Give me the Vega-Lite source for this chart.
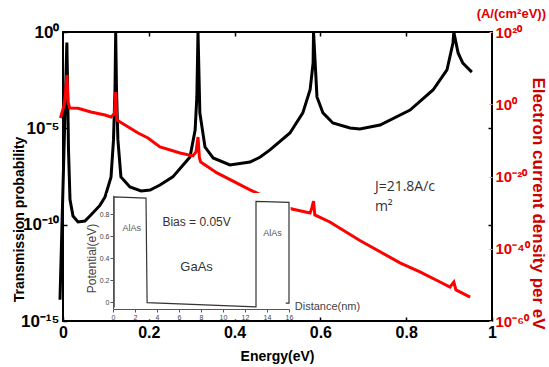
{
  "$schema": "https://vega.github.io/schema/vega-lite/v6.json",
  "width": 429,
  "height": 289,
  "autosize": "none",
  "padding": {"left": 63, "top": 32, "right": 57, "bottom": 46},
  "background": "white",
  "title": {"text": "(A/(cm²eV))", "anchor": "end", "frame": "group", "color": "#dd0000", "fontSize": 13, "font": "Liberation Sans", "fontWeight": "bold", "dx": 54, "dy": 10, "offset": 12},
  "config": {
    "view": {"stroke": "black", "strokeWidth": 2},
    "axis": {"grid": false, "domain": false, "labelFont": "Liberation Sans", "titleFont": "Liberation Sans"},
    "font": "Liberation Sans"
  },
  "datasets": {
    "transmission": [
      {"energy_eV": -0.007, "log10_transmission": -13.9},
      {"energy_eV": 0.009, "log10_transmission": -0.55},
      {"energy_eV": 0.0105, "log10_transmission": -2.5},
      {"energy_eV": 0.0128, "log10_transmission": -6.1},
      {"energy_eV": 0.0163, "log10_transmission": -8.7},
      {"energy_eV": 0.0233, "log10_transmission": -9.55},
      {"energy_eV": 0.035, "log10_transmission": -9.86},
      {"energy_eV": 0.051, "log10_transmission": -9.81},
      {"energy_eV": 0.065, "log10_transmission": -9.5},
      {"energy_eV": 0.086, "log10_transmission": -9.0},
      {"energy_eV": 0.098, "log10_transmission": -8.56},
      {"energy_eV": 0.112, "log10_transmission": -7.52},
      {"energy_eV": 0.1177, "log10_transmission": -5.6},
      {"energy_eV": 0.1212, "log10_transmission": -3.0},
      {"energy_eV": 0.1228, "log10_transmission": 0},
      {"energy_eV": 0.1247, "log10_transmission": -3.0},
      {"energy_eV": 0.128, "log10_transmission": -5.6},
      {"energy_eV": 0.135, "log10_transmission": -7.52},
      {"energy_eV": 0.156, "log10_transmission": -8.04},
      {"energy_eV": 0.182, "log10_transmission": -8.25},
      {"energy_eV": 0.203, "log10_transmission": -8.2},
      {"energy_eV": 0.226, "log10_transmission": -7.94},
      {"energy_eV": 0.256, "log10_transmission": -7.52},
      {"energy_eV": 0.296, "log10_transmission": -6.49},
      {"energy_eV": 0.308, "log10_transmission": -5.09},
      {"energy_eV": 0.312, "log10_transmission": -3.37},
      {"energy_eV": 0.3147, "log10_transmission": 0},
      {"energy_eV": 0.319, "log10_transmission": -4.2},
      {"energy_eV": 0.331, "log10_transmission": -5.97},
      {"energy_eV": 0.35, "log10_transmission": -6.54},
      {"energy_eV": 0.389, "log10_transmission": -6.9},
      {"energy_eV": 0.436, "log10_transmission": -6.75},
      {"energy_eV": 0.459, "log10_transmission": -6.5},
      {"energy_eV": 0.4825, "log10_transmission": -6.12},
      {"energy_eV": 0.529, "log10_transmission": -5.24},
      {"energy_eV": 0.559, "log10_transmission": -4.2},
      {"energy_eV": 0.576, "log10_transmission": -3.0},
      {"energy_eV": 0.583, "log10_transmission": -1.6},
      {"energy_eV": 0.584, "log10_transmission": 0},
      {"energy_eV": 0.592, "log10_transmission": -3.37},
      {"energy_eV": 0.606, "log10_transmission": -4.2},
      {"energy_eV": 0.629, "log10_transmission": -4.72},
      {"energy_eV": 0.669, "log10_transmission": -4.98},
      {"energy_eV": 0.692, "log10_transmission": -5.03},
      {"energy_eV": 0.739, "log10_transmission": -4.83},
      {"energy_eV": 0.809, "log10_transmission": -4.05},
      {"energy_eV": 0.8625, "log10_transmission": -3.01},
      {"energy_eV": 0.895, "log10_transmission": -1.97},
      {"energy_eV": 0.909, "log10_transmission": -0.57},
      {"energy_eV": 0.911, "log10_transmission": 0},
      {"energy_eV": 0.921, "log10_transmission": -1.09},
      {"energy_eV": 0.932, "log10_transmission": -1.61},
      {"energy_eV": 0.953, "log10_transmission": -2.08}
    ],
    "current": [
      {"energy_eV": -0.006, "log10_current": -3.8},
      {"energy_eV": 0.002, "log10_current": -0.5},
      {"energy_eV": 0.005, "log10_current": 2.0},
      {"energy_eV": 0.0093, "log10_current": 8.1},
      {"energy_eV": 0.0117, "log10_current": 0.62},
      {"energy_eV": 0.0156, "log10_current": -1.04},
      {"energy_eV": 0.035, "log10_current": -1.1},
      {"energy_eV": 0.065, "log10_current": -2.14},
      {"energy_eV": 0.098, "log10_current": -2.97},
      {"energy_eV": 0.112, "log10_current": -3.53},
      {"energy_eV": 0.12, "log10_current": -2.6},
      {"energy_eV": 0.1228, "log10_current": 3.39},
      {"energy_eV": 0.1255, "log10_current": -4.36},
      {"energy_eV": 0.1445, "log10_current": -5.74},
      {"energy_eV": 0.175, "log10_current": -7.96},
      {"energy_eV": 0.198, "log10_current": -9.34},
      {"energy_eV": 0.226, "log10_current": -11.8},
      {"energy_eV": 0.273, "log10_current": -13.5},
      {"energy_eV": 0.303, "log10_current": -14.3},
      {"energy_eV": 0.31, "log10_current": -13.2},
      {"energy_eV": 0.3147, "log10_current": -9.07},
      {"energy_eV": 0.318, "log10_current": -14.9},
      {"energy_eV": 0.321, "log10_current": -16.0},
      {"energy_eV": 0.359, "log10_current": -19.0},
      {"energy_eV": 0.436, "log10_current": -23.7},
      {"energy_eV": 0.534, "log10_current": -29.0},
      {"energy_eV": 0.576, "log10_current": -30.1},
      {"energy_eV": 0.58, "log10_current": -28.7},
      {"energy_eV": 0.584, "log10_current": -26.8},
      {"energy_eV": 0.587, "log10_current": -30.65},
      {"energy_eV": 0.622, "log10_current": -32.6},
      {"energy_eV": 0.692, "log10_current": -37.7},
      {"energy_eV": 0.7855, "log10_current": -43.9},
      {"energy_eV": 0.832, "log10_current": -46.4},
      {"energy_eV": 0.879, "log10_current": -49.2},
      {"energy_eV": 0.902, "log10_current": -50.6},
      {"energy_eV": 0.911, "log10_current": -49.2},
      {"energy_eV": 0.916, "log10_current": -51.4},
      {"energy_eV": 0.949, "log10_current": -53.4}
    ],
    "annotations": [
      {"energy_eV": 0.727, "log10_transmission": -8.05, "note": "J=21.8A/c"},
      {"energy_eV": 0.727, "log10_transmission": -9.1, "note": "m²"}
    ],
    "inset_panel": [
      {"distance_nm": -0.5, "distance_nm_end": 16.15, "potential_eV": -0.16, "potential_eV_end": 0.99}
    ],
    "potential_profile": [
      {"step": 1, "distance_nm": 0.1, "potential_eV": -0.05},
      {"step": 2, "distance_nm": 0.1, "potential_eV": 0.955},
      {"step": 3, "distance_nm": 3.0, "potential_eV": 0.945},
      {"step": 4, "distance_nm": 3.1, "potential_eV": -0.005},
      {"step": 5, "distance_nm": 13.0, "potential_eV": -0.045},
      {"step": 6, "distance_nm": 13.0, "potential_eV": 0.915},
      {"step": 7, "distance_nm": 16.0, "potential_eV": 0.905},
      {"step": 8, "distance_nm": 16.0, "potential_eV": -0.01},
      {"step": 9, "distance_nm": 15.7, "potential_eV": -0.01}
    ],
    "inset_labels": [
      {"distance_nm": 1.7, "potential_eV": 0.67, "label": "AlAs", "kind": "barrier"},
      {"distance_nm": 14.5, "potential_eV": 0.63, "label": "AlAs", "kind": "barrier"},
      {"distance_nm": 7.6, "potential_eV": 0.73, "label": "Bias = 0.05V", "kind": "bias"},
      {"distance_nm": 7.6, "potential_eV": 0.32, "label": "GaAs", "kind": "well"}
    ]
  },
  "layer": [
    {
      "layer": [
        {
          "data": {"name": "transmission"},
          "mark": {"type": "line", "color": "black", "strokeWidth": 3, "clip": false},
          "encoding": {
            "x": {"field": "energy_eV", "type": "quantitative", "scale": {"domain": [0, 1], "nice": false, "zero": false},
              "axis": {"orient": "bottom", "values": [0, 0.2, 0.4, 0.6, 0.8, 1], "format": "~g", "labelFlush": false, "labelFontSize": 16, "labelFontWeight": "bold", "labelColor": "black", "tickSize": -4, "tickColor": "black", "tickWidth": 1.5, "labelPadding": 7,
                "title": "Energy(eV)", "titleFontSize": 14, "titleFontWeight": "bold", "titleColor": "black", "titleX": 214, "titleY": 35, "titleAlign": "center", "titleBaseline": "middle"}},
            "y": {"field": "log10_transmission", "type": "quantitative", "scale": {"domain": [-15, 0], "nice": false, "zero": false},
              "axis": {"orient": "left", "values": [0, -5, -10, -15], "labelExpr": "datum.value == 0 ? '10⁰' : datum.value == -5 ? '10⁻⁵' : datum.value == -10 ? '10⁻¹⁰' : '10⁻¹⁵'", "labelFontSize": 17, "labelFontWeight": "bold", "labelColor": "black", "tickSize": -4, "tickColor": "black", "tickWidth": 1.5, "labelPadding": 8,
                "title": "Transmission probability", "titleFontSize": 14, "titleFontWeight": "bold", "titleColor": "black", "titleAngle": -90, "titleX": -44, "titleY": 187, "titleAlign": "center", "titleBaseline": "middle"}}
          }
        },
        {
          "data": {"name": "annotations"},
          "mark": {"type": "text", "align": "left", "baseline": "middle", "font": "Open Sans", "fontSize": 14, "color": "#333333"},
          "encoding": {
            "x": {"field": "energy_eV", "type": "quantitative"},
            "y": {"field": "log10_transmission", "type": "quantitative"},
            "text": {"field": "note"}
          }
        }
      ]
    },
    {
      "data": {"name": "current"},
      "mark": {"type": "line", "color": "#ff0000", "strokeWidth": 3, "clip": false},
      "encoding": {
        "x": {"field": "energy_eV", "type": "quantitative", "scale": {"domain": [0, 1], "nice": false, "zero": false}, "axis": null},
        "y": {"field": "log10_current", "type": "quantitative", "scale": {"domain": [-60, 20], "nice": false, "zero": false},
          "axis": {"orient": "right", "values": [20, 0, -20, -40, -60], "labelExpr": "datum.value == 20 ? '10²⁰' : datum.value == 0 ? '10⁰' : datum.value == -20 ? '10⁻²⁰' : datum.value == -40 ? '10⁻⁴⁰' : '10⁻⁶⁰'", "labelFontSize": 15, "labelFontWeight": "bold", "labelColor": "#e60000", "tickSize": -3, "tickColor": "#ff9090", "labelPadding": 6,
            "title": "Electron current density per eV", "titleColor": "#cc0000", "titleFontSize": 17, "titleFontWeight": "bold", "titleAngle": 90, "titleX": 45, "titleY": 171, "titleAlign": "center", "titleBaseline": "middle"}}
      }
    },
    {
      "data": {"name": "transmission"},
      "mark": {"type": "line", "strokeOpacity": 0},
      "encoding": {
        "x": {"field": "energy_eV", "type": "quantitative", "scale": {"domain": [0, 1], "nice": false, "zero": false},
          "axis": {"orient": "top", "values": [0.2, 0.4, 0.6, 0.8], "labels": false, "tickSize": -4, "tickColor": "black", "tickWidth": 1.5, "title": null}},
        "y": {"field": "log10_transmission", "type": "quantitative", "scale": {"domain": [-15, 0], "nice": false, "zero": false},
          "axis": {"orient": "right", "values": [-5, -10], "labels": false, "tickSize": -4, "tickColor": "black", "tickWidth": 1.5, "title": null}}
      }
    },
    {
      "layer": [
        {
          "data": {"name": "inset_panel"},
          "mark": {"type": "rect", "fill": "white"},
          "encoding": {
            "x": {"field": "distance_nm", "type": "quantitative"},
            "x2": {"field": "distance_nm_end"},
            "y": {"field": "potential_eV", "type": "quantitative"},
            "y2": {"field": "potential_eV_end"}
          }
        },
        {
          "data": {"name": "potential_profile"},
          "mark": {"type": "line", "color": "#333333", "strokeWidth": 1.2},
          "encoding": {
            "order": {"field": "step", "type": "quantitative"},
            "x": {"field": "distance_nm", "type": "quantitative", "scale": {"domain": [0, 16], "range": [50, 226], "nice": false, "zero": false},
              "axis": {"orient": "bottom", "offset": -12, "values": [0, 2, 4, 6, 8, 10, 12, 14, 16], "domain": true, "domainColor": "#555555", "domainWidth": 1, "tickSize": 3, "tickColor": "#555555", "labelFontSize": 7, "labelColor": "#444444", "labelPadding": 1, "labelFlush": false, "zindex": 2,
                "title": "Distance(nm)", "titleFontSize": 11, "titleFontWeight": "normal", "titleColor": "#444444", "titleX": 264, "titleY": -3, "titleAlign": "center", "titleBaseline": "middle"}},
            "y": {"field": "potential_eV", "type": "quantitative", "scale": {"domain": [-0.06, 0.97], "range": [276.6, 163.3], "nice": false, "zero": false},
              "axis": {"orient": "left", "offset": -50, "values": [0, 0.2, 0.4, 0.6, 0.8], "format": "~g", "domain": true, "domainColor": "#555555", "domainWidth": 1, "tickSize": 3, "tickColor": "#555555", "labelFontSize": 7, "labelColor": "#444444", "labelPadding": 1, "zindex": 2,
                "title": "Potential(eV)", "titleFontSize": 12, "titleFontWeight": "normal", "titleColor": "#444444", "titleAngle": -90, "titleX": -22, "titleY": 226, "titleAlign": "center", "titleBaseline": "middle"}}
          }
        },
        {
          "data": {"name": "inset_labels"},
          "transform": [{"filter": "datum.kind == 'barrier'"}],
          "mark": {"type": "text", "fontSize": 9, "color": "#555555", "font": "Liberation Sans"},
          "encoding": {
            "x": {"field": "distance_nm", "type": "quantitative"},
            "y": {"field": "potential_eV", "type": "quantitative"},
            "text": {"field": "label"}
          }
        },
        {
          "data": {"name": "inset_labels"},
          "transform": [{"filter": "datum.kind == 'bias'"}],
          "mark": {"type": "text", "fontSize": 12, "color": "#333333", "font": "Liberation Sans"},
          "encoding": {
            "x": {"field": "distance_nm", "type": "quantitative"},
            "y": {"field": "potential_eV", "type": "quantitative"},
            "text": {"field": "label"}
          }
        },
        {
          "data": {"name": "inset_labels"},
          "transform": [{"filter": "datum.kind == 'well'"}],
          "mark": {"type": "text", "fontSize": 13, "color": "#333333", "font": "Liberation Sans"},
          "encoding": {
            "x": {"field": "distance_nm", "type": "quantitative"},
            "y": {"field": "potential_eV", "type": "quantitative"},
            "text": {"field": "label"}
          }
        }
      ]
    }
  ],
  "resolve": {"scale": {"x": "independent", "y": "independent"}, "axis": {"x": "independent", "y": "independent"}}
}
